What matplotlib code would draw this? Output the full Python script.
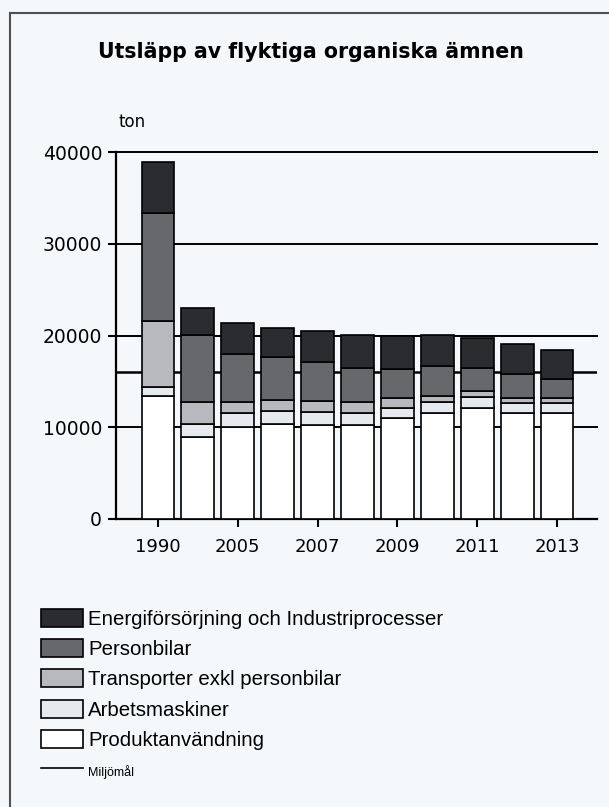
import matplotlib
matplotlib.use('Agg')
import matplotlib.pyplot as plt
from matplotlib.patches import Patch
from matplotlib.lines import Line2D
import numpy as np

# data (ton)
years = ['1990', '2000', '2005', '2006', '2007', '2008', '2009', '2010', '2011', '2012', '2013']
produkt = [13400, 8900, 10000, 10400, 10200, 10200, 11000, 11600, 12100, 11500, 11600]
arbets = [1000, 1400, 1500, 1400, 1450, 1350, 1150, 1100, 1200, 1100, 1050]
transport = [7200, 2500, 1300, 1200, 1200, 1150, 1000, 700, 650, 600, 500]
personbil = [11700, 7300, 5200, 4650, 4250, 3800, 3250, 3300, 2550, 2550, 2150]
energi = [5650, 2900, 3350, 3200, 3350, 3500, 3500, 3350, 3250, 3350, 3100]
miljomal = 16000

series = [
    ('Produktanvändning', produkt, '#ffffff'),
    ('Arbetsmaskiner', arbets, '#e6eaef'),
    ('Transporter exkl personbilar', transport, '#b7b9be'),
    ('Personbilar', personbil, '#67686c'),
    ('Energiförsörjning och Industriprocesser', energi, '#2b2c2f'),
]

bg = '#f4f8fb'
fig = plt.figure(figsize=(6.09, 8.07), dpi=100, facecolor=bg)
ax = fig.add_axes([116/609, 1-519/807, (597-116)/609, (519-152)/807])
ax.set_facecolor(bg)

x = np.arange(len(years))
bottom = np.zeros(len(years))
for name, vals, col in series:
    ax.bar(x, vals, width=0.82, bottom=bottom, color=col, edgecolor='black',
           linewidth=1.2, zorder=3)
    bottom += np.array(vals)

for v in [10000, 20000, 30000, 40000]:
    ax.axhline(v, color='black', linewidth=1.4, zorder=1, clip_on=False)
ax.axhline(miljomal, color='black', linewidth=1.8, zorder=1)

ax.set_xlim(-1.05, 11.0)
ax.set_ylim(0, 40000)
ax.set_yticks([0, 10000, 20000, 30000, 40000])
ax.set_yticklabels(['0', '10000', '20000', '30000', '40000'])
ax.set_xticks(x[::2])
ax.set_xticklabels(years[::2])
ax.tick_params(axis='both', labelsize=13.5, width=1.5, length=6, color='black', pad=4)
ax.tick_params(axis='x', labelsize=13, pad=8)
for s in ['top', 'right']:
    ax.spines[s].set_visible(False)
for s in ['left', 'bottom']:
    ax.spines[s].set_linewidth(1.6)

fig.text(311/609, 1-52/807, 'Utsläpp av flyktiga organiska ämnen', ha='center', va='center',
         fontsize=14.8, fontweight='bold')
fig.text(118/609, 1-122/807, 'ton', ha='left', va='center', fontsize=12)

# frame around the picture
fig.add_artist(Line2D([10/609, 1], [1-13/807, 1-13/807], color='#505050', linewidth=1.5))
fig.add_artist(Line2D([10/609, 10/609], [0, 1-13/807], color='#505050', linewidth=1.5))

handles = [Patch(facecolor=col, edgecolor='black', linewidth=1.2) for name, vals, col in series[::-1]]
labels = [name for name, vals, col in series[::-1]]
handles.append(Line2D([0], [0], color='black', linewidth=1.2))
labels.append('Miljömål')
leg = fig.legend(handles, labels, loc='upper left', bbox_to_anchor=(41/609, 1-609/807),
                 frameon=False, handlelength=2.05, handleheight=0.98,
                 labelspacing=0.5, handletextpad=0.25, borderpad=0, borderaxespad=0,
                 prop={'family': 'Liberation Sans', 'size': 14.7})
leg.get_texts()[-1].set_fontsize(9)

fig.savefig('out.png', dpi=100, facecolor=bg)
